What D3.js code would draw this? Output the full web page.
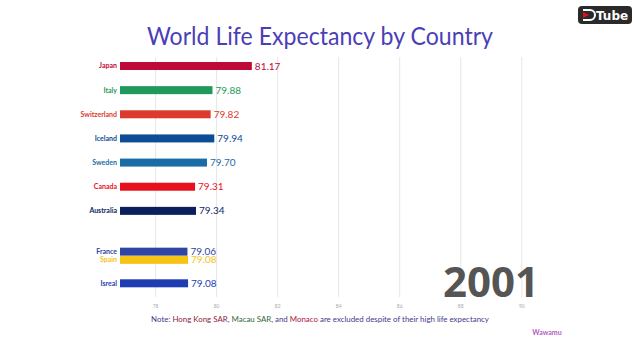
<!DOCTYPE html>
<html><head><meta charset="utf-8">
<script src="https://cdn.jsdelivr.net/npm/d3@7"></script>
<style>body{margin:0;background:#fff;}svg{display:block;}</style>
</head><body>
<svg id="c" width="640" height="360"></svg>
<script>
const countries = ["Japan","Italy","Switzerland","Iceland","Sweden","Canada","Australia","France","Spain","Isreal"];
const values = [81.17,79.88,79.82,79.94,79.70,79.31,79.34,79.06,79.08,79.08];
const ranks = [0,1,2,3,4,5,6,7.69,8.03,9];
const colors = ["#bd0a36","#1f9a5b","#dc3a2c","#0d4d95","#1a6ba6","#e8101c","#0b1f5f","#2f45a3","#f6c417","#1f3db3"];
const ticks = [78,80,82,84,86,88,90];
const year = "2001";

const svg = d3.select("#c");
const x = d3.scaleLinear().domain([76.85, 90]).range([120, 521.3]);
const y = d3.scaleLinear().domain([0, 9]).range([66, 283.3]);
const barH = 8;

// grid
const axis = d3.axisBottom(x).tickValues(ticks).tickSize(-240).tickFormat(d3.format("d"));
const g = svg.append("g").attr("transform","translate(0,297)").call(axis);
g.select(".domain").remove();
g.selectAll(".tick line").attr("stroke","#e6e6e6").attr("stroke-width",1);
g.selectAll(".tick text").attr("fill","#aaa").attr("font-size",5).attr("font-family","Lato, sans-serif").attr("y",6).attr("dy","0.9em");

// title
svg.append("text").attr("x",320).attr("y",45).attr("text-anchor","middle")
  .attr("font-family","Lato, sans-serif").attr("font-size",25).attr("fill","#4b3fb6")
  .attr("textLength",346).attr("lengthAdjust","spacingAndGlyphs")
  .text("World Life Expectancy by Country");

// bars
const data = countries.map((c,i)=>({c, v:values[i], r:ranks[i], col:colors[i]}));
svg.selectAll("rect.bar").data(data).join("rect").attr("class","bar")
  .attr("x", x(76.85)).attr("y", d=>y(d.r)-barH/2)
  .attr("width", d=>x(d.v)-x(76.85)).attr("height", barH).attr("fill", d=>d.col);

svg.selectAll("text.name").data(data).join("text").attr("class","name")
  .attr("x",117).attr("y",d=>y(d.r)).attr("dy","0.35em").attr("text-anchor","end")
  .attr("font-family","Lato, sans-serif").attr("font-weight","bold").attr("font-size",7)
  .attr("fill",d=>d.col).text(d=>d.c);

svg.selectAll("text.val").data(data).join("text").attr("class","val")
  .attr("x",d=>x(d.v)+3).attr("y",d=>y(d.r)).attr("dy","0.36em")
  .attr("font-family","Lato, sans-serif").attr("font-size",10)
  .attr("fill",d=>d.col).text(d=>d.v.toFixed(2));

// year
svg.append("text").attr("x",539).attr("y",297).attr("text-anchor","end")
  .attr("font-family","'Open Sans', sans-serif").attr("font-weight","bold").attr("font-size",42)
  .attr("fill","#555").text(year);

// note
const note = svg.append("text").attr("x",320).attr("y",322).attr("text-anchor","middle")
  .attr("font-family","Lato, sans-serif").attr("font-size",7.9).attr("fill","#3e3a8c");
[["Note: ","#3e3a8c"],["Hong Kong SAR","#8c1b3b"],[", ","#3e3a8c"],["Macau SAR","#2f6a3b"],[", and ","#3e3a8c"],["Monaco","#b0123c"],[" are excluded despite of their high life expectancy","#3e3a8c"]]
  .forEach(([t,c])=>note.append("tspan").attr("fill",c).text(t));

// watermark
svg.append("text").attr("x",547).attr("y",335).attr("text-anchor","middle")
  .attr("font-family","Lato, sans-serif").attr("font-weight","bold").attr("font-size",7)
  .attr("fill","#b35fc4").text("Wawamu");

// DTube badge
const b = svg.append("g");
b.append("rect").attr("x",578).attr("y",6).attr("width",54).attr("height",18).attr("rx",4).attr("fill","#2a2a2a");
b.append("path").attr("d","M583,10 L590,10 A5,5 0 0 1 590,20 L583,20").attr("fill","none").attr("stroke","#fff").attr("stroke-width",2);
b.append("path").attr("d","M583,12 L589,15 L583,18 Z").attr("fill","#e0101a");
b.append("text").attr("x",596).attr("y",20).attr("font-family","'DejaVu Sans', sans-serif").attr("font-weight","bold")
  .attr("font-size",12).attr("fill","#fff").text("Tube");
</script>
</body></html>
